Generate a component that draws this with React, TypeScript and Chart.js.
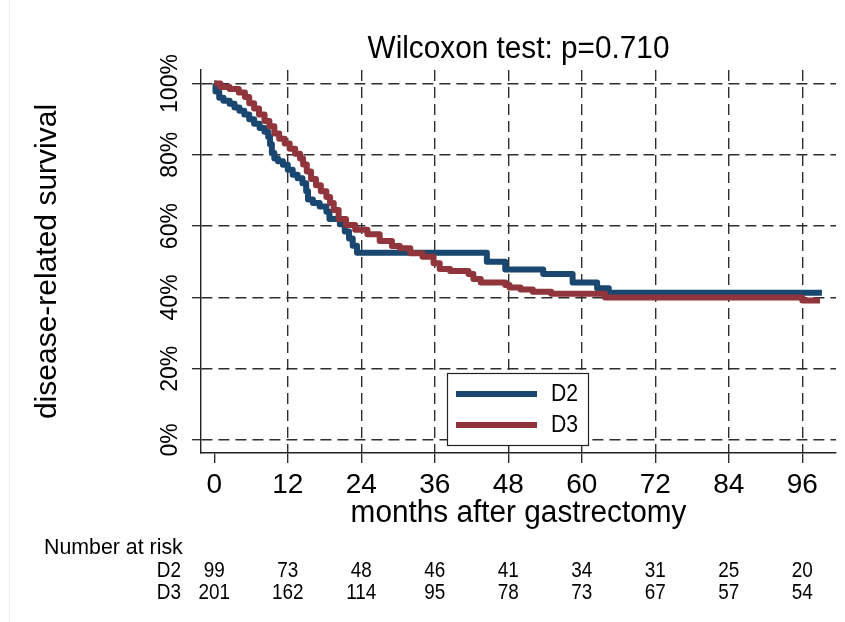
import React, { useEffect, useRef } from 'react';
import { Chart, registerables } from 'chart.js';

Chart.register(...registerables);

// ---- data ----
const seriesLabels = ['D2', 'D3'];
const seriesColors = ['#1a476f', '#90353b'];

const d2Months = [0, 0.2, 0.8, 1.5, 2.5, 3.3, 4.1, 4.9, 5.7, 6.5, 7.4, 8.2, 8.8, 9.1, 9.4, 9.8, 10.4, 11.2, 12.0, 12.8, 13.6, 14.4, 15.0, 15.3, 16.1, 17.2, 18.3, 18.8, 20.5, 21.3, 22.0, 22.6, 23.3, 44.5, 47.5, 53.7, 58.5, 62.5, 64.4, 99.2];
const d2Survival = [100, 97.8, 96.0, 95.2, 94.3, 93.3, 92.4, 91.3, 90.0, 88.7, 87.5, 86.5, 85.0, 83.0, 80.5, 79.0, 78.2, 77.2, 75.8, 74.4, 73.4, 72.0, 69.8, 67.5, 66.5, 65.5, 64.0, 62.0, 60.5, 58.5, 56.5, 54.5, 52.5, 50.0, 47.8, 46.6, 44.2, 42.6, 41.3, 41.3];

const d3Months = [0, 1.0, 2.5, 4.0, 5.0, 5.7, 6.5, 7.3, 8.2, 9.0, 9.8, 10.6, 11.5, 12.3, 13.2, 14.0, 14.5, 15.1, 15.8, 16.6, 17.4, 18.3, 18.9, 19.5, 20.3, 21.5, 23.0, 25.0, 27.0, 29.0, 30.3, 32.0, 34.0, 35.8, 36.8, 38.5, 41.5, 42.3, 43.5, 47.5, 48.2, 50.0, 52.0, 55.0, 63.8, 96.0, 98.9];
const d3Survival = [100, 99.0, 98.5, 97.5, 96.2, 94.5, 93.0, 91.3, 89.5, 88.0, 86.0, 84.5, 83.2, 81.7, 80.3, 79.0, 77.3, 75.3, 73.2, 71.5, 69.8, 68.2, 66.5, 64.5, 62.0, 60.3, 59.0, 57.7, 55.8, 54.4, 53.8, 52.4, 51.4, 49.6, 48.0, 47.4, 46.6, 45.2, 44.2, 43.5, 42.8, 42.2, 41.6, 41.0, 40.0, 39.1, 39.1];

const xTicks = [0, 12, 24, 36, 48, 60, 72, 84, 96];
const yTicks = [0, 20, 40, 60, 80, 100];
const yTickLabels = ['0%', '20%', '40%', '60%', '80%', '100%'];

const riskTitle = 'Number at risk';
const riskGroups = ['D2', 'D3'];
const riskD2 = [99, 73, 48, 46, 41, 34, 31, 25, 20];
const riskD3 = [201, 162, 114, 95, 78, 73, 67, 57, 54];

const chartTitle = 'Wilcoxon test: p=0.710';
const xTitle = 'months after gastrectomy';
const yTitle = 'disease-related survival';

const FONT = '"Liberation Sans", Arial, Helvetica, sans-serif';

function drawText(
  ctx: CanvasRenderingContext2D,
  text: string,
  x: number,
  y: number,
  size: number,
  opts: { align?: CanvasTextAlign; baseline?: CanvasTextBaseline; rotate?: number; hscale?: number; color?: string } = {}
) {
  ctx.save();
  ctx.translate(x, y);
  if (opts.rotate) ctx.rotate(opts.rotate);
  ctx.scale(opts.hscale ?? 1, 1);
  ctx.font = `${size}px ${FONT}`;
  ctx.fillStyle = opts.color ?? '#000';
  ctx.textAlign = opts.align ?? 'center';
  ctx.textBaseline = opts.baseline ?? 'middle';
  ctx.fillText(text, 0, 0);
  ctx.restore();
}

const decorPlugin = {
  id: 'decor',
  afterDatasetsDraw(chart: any) {
    const ctx: CanvasRenderingContext2D = chart.ctx;
    const area = chart.chartArea;
    const xs = chart.scales.x;
    const ys = chart.scales.y;
    const midX = (area.left + area.right) / 2;
    const midY = (area.top + area.bottom) / 2;

    // faint frame line at left
    ctx.save();
    ctx.strokeStyle = '#e6eef0';
    ctx.lineWidth = 1;
    ctx.beginPath();
    ctx.moveTo(9.5, 0);
    ctx.lineTo(9.5, chart.height);
    ctx.stroke();
    ctx.restore();

    // title
    drawText(ctx, chartTitle, midX, 49, 31, { hscale: 0.96 });
    // axis titles
    drawText(ctx, xTitle, midX, 513, 31, { hscale: 0.96 });
    drawText(ctx, yTitle, 48, midY, 30, { rotate: -Math.PI / 2 });

    // y tick labels (rotated)
    yTicks.forEach((v, i) => {
      const py = ys.getPixelForValue(v);
      drawText(ctx, yTickLabels[i], 177, py, 23, { rotate: -Math.PI / 2, baseline: 'alphabetic' });
    });

    // legend
    const bx = 447.5, by = 373.5, bw = 141, bh = 72;
    ctx.save();
    ctx.fillStyle = '#fff';
    ctx.fillRect(bx, by, bw, bh);
    ctx.strokeStyle = '#222';
    ctx.lineWidth = 1.2;
    ctx.strokeRect(bx, by, bw, bh);
    ctx.restore();
    seriesLabels.forEach((lab, i) => {
      const ly = 394 + i * 31;
      ctx.save();
      ctx.strokeStyle = seriesColors[i];
      ctx.lineWidth = 6;
      ctx.lineCap = 'butt';
      ctx.beginPath();
      ctx.moveTo(456, ly);
      ctx.lineTo(537, ly);
      ctx.stroke();
      ctx.restore();
      drawText(ctx, lab, 551, ly + 1, 23, { align: 'left', hscale: 0.92 });
    });

    // risk table
    drawText(ctx, riskTitle, 44, 548, 22, { align: 'left', hscale: 0.97 });
    const rows = [riskD2, riskD3];
    rows.forEach((vals, r) => {
      const ry = 571 + r * 22;
      drawText(ctx, riskGroups[r], 181, ry, 22, { align: 'right', hscale: 0.86 });
      vals.forEach((n, i) => {
        drawText(ctx, String(n), xs.getPixelForValue(xTicks[i]), ry, 22, { hscale: 0.86 });
      });
    });
  },
};

export default function App() {
  const ref = useRef<HTMLCanvasElement | null>(null);

  useEffect(() => {
    document.body.style.margin = '0';
    const canvas = ref.current;
    if (!canvas) return;
    const gridColor = '#2e2e2e';
    const chart = new Chart(canvas, {
      type: 'line',
      data: {
        datasets: [
          {
            label: seriesLabels[0],
            data: d2Months.map((t, i) => ({ x: t, y: d2Survival[i] })),
            borderColor: seriesColors[0],
            backgroundColor: seriesColors[0],
            borderWidth: 6,
            pointRadius: 0,
            stepped: 'before',
            fill: false,
            borderJoinStyle: 'round',
            borderCapStyle: 'butt',
            order: 1,
          },
          {
            label: seriesLabels[1],
            data: d3Months.map((t, i) => ({ x: t, y: d3Survival[i] })),
            borderColor: seriesColors[1],
            backgroundColor: seriesColors[1],
            borderWidth: 6,
            pointRadius: 0,
            stepped: 'before',
            fill: false,
            borderJoinStyle: 'round',
            borderCapStyle: 'butt',
            order: 0,
          },
        ],
      },
      options: {
        animation: false,
        responsive: false,
        devicePixelRatio: 1,
        layout: { padding: { top: 70, right: 9, left: 0, bottom: 0 } },
        plugins: { legend: { display: false }, tooltip: { enabled: false }, title: { display: false } },
        scales: {
          x: {
            type: 'linear',
            min: -2.17,
            max: 101.5,
            afterBuildTicks: (s: any) => {
              s.ticks = xTicks.map((v) => ({ value: v }));
            },
            afterFit: (s: any) => {
              s.height = 169;
            },
            ticks: {
              autoSkip: false,
              maxRotation: 0,
              minRotation: 0,
              color: '#000',
              padding: 5,
              font: { size: 28, family: FONT },
            },
            grid: {
              color: (c: any) => (c.tick && c.tick.value === 0 ? 'rgba(0,0,0,0)' : gridColor),
              lineWidth: 1.4,
              tickColor: '#222',
              tickLength: 10,
              tickWidth: 1.3,
            },
            border: { display: true, color: '#222', width: 1.4, dash: [11, 6] },
          },
          y: {
            type: 'linear',
            min: -3.65,
            max: 103.8,
            afterBuildTicks: (s: any) => {
              s.ticks = yTicks.map((v) => ({ value: v }));
            },
            afterFit: (s: any) => {
              s.width = 201;
            },
            ticks: { display: false },
            grid: {
              color: gridColor,
              lineWidth: 1.4,
              tickColor: '#222',
              tickLength: 9,
              tickWidth: 1.3,
            },
            border: { display: true, color: '#222', width: 1.4, dash: [11, 6] },
          },
        },
      } as any,
      plugins: [decorPlugin],
    });
    return () => chart.destroy();
  }, []);

  return (
    <div style={{ width: 845, height: 622, background: '#fff' }}>
      <canvas ref={ref} width={845} height={622} style={{ display: 'block' }} />
    </div>
  );
}
